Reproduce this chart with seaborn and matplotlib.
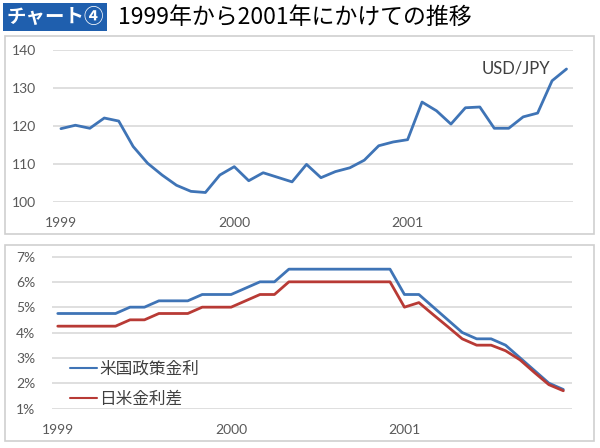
import pandas as pd
import numpy as np
import matplotlib.pyplot as plt
import matplotlib.ticker as mticker
from matplotlib.patches import Rectangle
from matplotlib.lines import Line2D
import seaborn as sns

sns.set_theme(style='white')
plt.rcParams['font.family'] = ['Lato', 'Noto Sans CJK JP', 'DejaVu Sans']

# monthly data, Jan 1999 - Dec 2001
month_idx = np.arange(36)
year_ticks = [0, 12, 24]
year_labels = ['1999', '2000', '2001']

usdjpy = [119.3, 120.2, 119.4, 122.1, 121.3, 114.6, 110.2, 107.1, 104.4, 102.8,
          102.5, 107.1, 109.3, 105.6, 107.7, 106.5, 105.3, 109.9, 106.4, 108.0,
          109.0, 111.0, 114.8, 115.8, 116.4, 126.3, 124.0, 120.5, 124.8, 125.0,
          119.4, 119.4, 122.4, 123.4, 131.9, 135.0]

us_rate = [4.75, 4.75, 4.75, 4.75, 4.75, 5.0, 5.0, 5.25, 5.25, 5.25,
           5.5, 5.5, 5.5, 5.75, 6.0, 6.0, 6.5, 6.5, 6.5, 6.5,
           6.5, 6.5, 6.5, 6.5, 5.5, 5.5, 5.0, 4.5, 4.0, 3.75,
           3.75, 3.5, 3.0, 2.5, 2.0, 1.75]

spread = [4.25, 4.25, 4.25, 4.25, 4.25, 4.5, 4.5, 4.75, 4.75, 4.75,
          5.0, 5.0, 5.0, 5.25, 5.5, 5.5, 6.0, 6.0, 6.0, 6.0,
          6.0, 6.0, 6.0, 6.0, 5.0, 5.18, 4.7, 4.23, 3.75, 3.5,
          3.5, 3.28, 2.92, 2.42, 1.94, 1.7]

series_names = ['米国政策金利', '日米金利差']
blue = '#3f74b6'
red = '#b83a35'
grid_c = '#d9d9d9'
tick_c = '#595959'

W, H = 600, 448
fig = plt.figure(figsize=(6, 4.48), dpi=100)

# panel frames
for y0, y1 in [(36, 234), (245, 441)]:
    fig.patches.append(Rectangle((5 / W, 1 - y1 / H), 589 / W, (y1 - y0) / H,
                                 transform=fig.transFigure, fill=False,
                                 edgecolor='#cfcfcf', lw=1.2))

# title
fig.patches.append(Rectangle((3 / W, 1 - 31 / H), 104 / W, 28 / H,
                             transform=fig.transFigure, facecolor='#1f5fae',
                             edgecolor='none'))
fig.text(55 / W, 1 - 17 / H, 'チャート④', color='white', fontsize=14,
         fontweight='bold', ha='center', va='center', family=['Noto Sans CJK JP'])
fig.text(118 / W, 1 - 17 / H, '1999年から2001年にかけての推移', color='black',
         fontsize=16.5, ha='left', va='center', family=['Noto Sans CJK JP'])

def style_axes(ax):
    for s in ax.spines.values():
        s.set_visible(False)
    ax.yaxis.grid(True, color=grid_c, lw=1.2)
    ax.xaxis.grid(False)
    ax.set_xticks(year_ticks)
    ax.set_xticklabels(year_labels)
    ax.tick_params(axis='both', length=0, labelsize=10, colors=tick_c)
    ax.tick_params(axis='x', pad=11)
    ax.tick_params(axis='y', pad=12)
    ax.set_xlabel('')
    ax.set_ylabel('')

# top: USD/JPY
ax1 = fig.add_axes([53 / W, 1 - 202 / H, 520 / W, 152 / H])
top_df = pd.DataFrame({'month': month_idx, 'usdjpy': usdjpy})
sns.lineplot(data=top_df, x='month', y='usdjpy', color=blue, lw=2, ax=ax1)
ax1.set_ylim(100, 140)
ax1.set_yticks([100, 110, 120, 130, 140])
ax1.set_xlim(-0.55, 35.45)
style_axes(ax1)
ax1.text(0.89, 0.88, 'USD/JPY', transform=ax1.transAxes, fontsize=12,
         color='#404040', ha='center', va='center')

# bottom: rates
ax2 = fig.add_axes([52 / W, 1 - 408.5 / H, 520 / W, 152 / H])
rate_df = pd.DataFrame({'month': np.concatenate([month_idx, month_idx]),
                        'rate': us_rate + spread,
                        'series': [series_names[0]] * 36 + [series_names[1]] * 36})
sns.lineplot(data=rate_df, x='month', y='rate', hue='series',
             palette=[blue, red], lw=2, ax=ax2, legend=False)
ax2.set_ylim(1, 7)
ax2.set_yticks(range(1, 8))
ax2.yaxis.set_major_formatter(mticker.FuncFormatter(lambda v, p: f'{v:.0f}%'))
ax2.set_xlim(-0.4, 35.6)
style_axes(ax2)

handles = [Line2D([], [], color=blue, lw=1.5), Line2D([], [], color=red, lw=1.5)]
leg = ax2.legend(handles, series_names, loc='upper left',
                 bbox_to_anchor=(70 / W, 1 - 361 / H), bbox_transform=fig.transFigure,
                 frameon=False, borderpad=0, borderaxespad=0, handlelength=1.6,
                 handletextpad=0.15, labelspacing=0.75,
                 prop={'family': ['Noto Sans CJK JP'], 'size': 12})
for t in leg.get_texts():
    t.set_color('#404040')

fig.savefig('out.png', dpi=100)
